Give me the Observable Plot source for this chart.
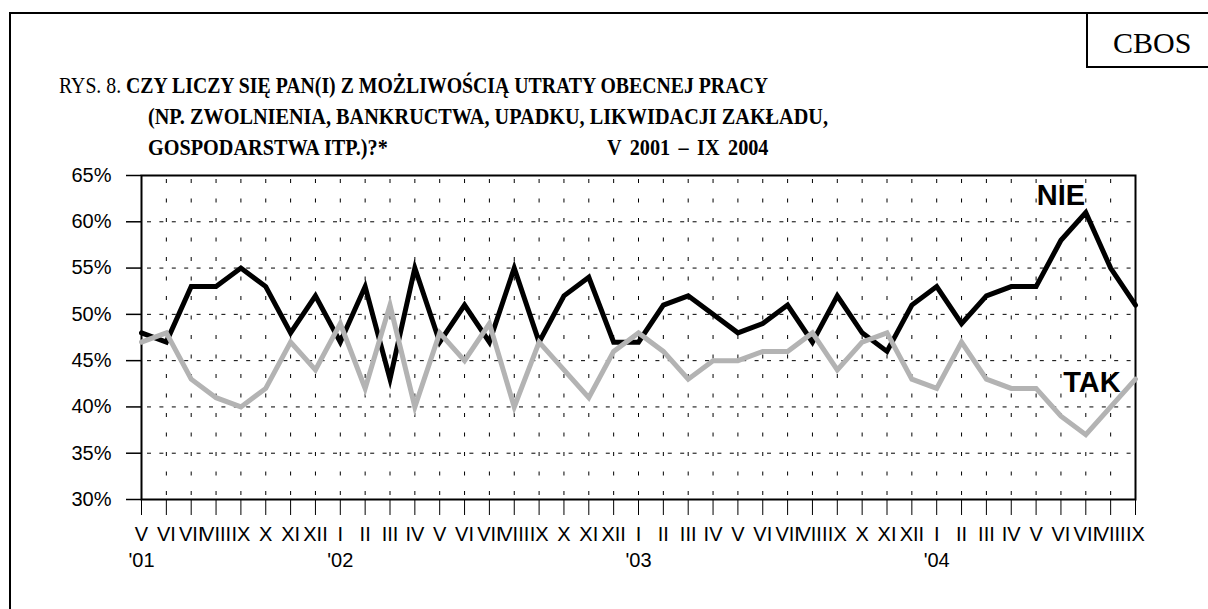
<!DOCTYPE html>
<html>
<head>
<meta charset="utf-8">
<script src="https://cdn.jsdelivr.net/npm/d3@7"></script>
<script src="https://cdn.jsdelivr.net/npm/@observablehq/plot@0.6"></script>
<style>
  html, body { margin: 0; padding: 0; background: #fff; }
  #page { position: relative; width: 1208px; height: 609px; overflow: hidden; background: #fff; }
  .frameTop { position: absolute; left: 9px; top: 12px; width: 1199px; height: 2px; background: #000; }
  .frameLeft { position: absolute; left: 9px; top: 12px; width: 2px; height: 597px; background: #000; }
  .cbosBox { position: absolute; left: 1086px; top: 12px; width: 122px; height: 56px; border-left: 2px solid #000; border-bottom: 2px solid #000; box-sizing: border-box; }
  .cbos { position: absolute; left: 1113px; top: 28px; font: 30px/1 "Liberation Serif", "Times New Roman", serif; white-space: nowrap; }
  .tline { position: absolute; font: bold 24px/1 "Liberation Serif", "Times New Roman", serif; white-space: nowrap; transform-origin: 0 0; }
  .tline .reg { font-weight: normal; }
  #chart { position: absolute; left: 0; top: 150px; }
</style>
</head>
<body>
<div id="page">
  <div class="frameTop"></div>
  <div class="frameLeft"></div>
  <div class="cbosBox"></div>
  <div class="cbos">CBOS</div>
  <div class="tline" id="t1" style="left:59px; top:73px;"><span class="reg">RYS. 8. </span>CZY LICZY SIĘ PAN(I) Z MOŻLIWOŚCIĄ UTRATY OBECNEJ PRACY</div>
  <div class="tline" id="t2" style="left:148px; top:104px;">(NP. ZWOLNIENIA, BANKRUCTWA, UPADKU, LIKWIDACJI ZAKŁADU,</div>
  <div class="tline" id="t3a" style="left:148px; top:135px;">GOSPODARSTWA ITP.)?*</div>
  <div class="tline" id="t3b" style="left:565px; top:135px; word-spacing:4px;">V 2001 – IX 2004</div>
  <div id="chart"></div>
</div>
<script>
// ---- data ----
const months = ["V","VI","VII","VIII","IX","X","XI","XII",
  "I","II","III","IV","V","VI","VII","VIII","IX","X","XI","XII",
  "I","II","III","IV","V","VI","VII","VIII","IX","X","XI","XII",
  "I","II","III","IV","V","VI","VII","VIII","IX"];
const yearTicks = [0, 8, 20, 32];
const yearLabels = ["'01", "'02", "'03", "'04"];
const nie = [48,47,53,53,55,53,48,52,47,53,43,55,47,51,47,55,47,52,54,47,47,51,52,50,48,49,51,47,52,48,46,51,53,49,52,53,53,58,61,55,51];
const tak = [47,48,43,41,40,42,47,44,49,42,51,40,48,45,49,40,47,44,41,46,48,46,43,45,45,46,46,48,44,47,48,43,42,47,43,42,42,39,37,40,43];
const yTicks = [30,35,40,45,50,55,60,65];
const gridY = [35,40,45,50,55,60];

const rows = months.map((m, i) => ({i, month: m, nie: nie[i], tak: tak[i]}));
const idx = rows.map(d => d.i);

// fit title lines to the reference widths
function fit(id, target) {
  const el = document.getElementById(id);
  const s = target / el.getBoundingClientRect().width;
  el.style.transform = `scaleX(${s})`;
  return s;
}
fit("t1", 709);
const s2 = fit("t2", 680);
document.getElementById("t3a").style.transform = `scaleX(${s2})`;
const t3b = document.getElementById("t3b");
const w3b = t3b.getBoundingClientRect().width * s2;
t3b.style.left = `${768 - w3b}px`;
t3b.style.transform = `scaleX(${s2})`;

const sans = "'Liberation Sans', Arial, sans-serif";
const chart = Plot.plot({
  width: 1208,
  height: 459,
  marginLeft: 141,
  marginRight: 73,
  marginTop: 25,
  marginBottom: 110,
  style: {fontFamily: sans, fontSize: "20px", color: "#000", background: "transparent"},
  x: {type: "linear", domain: [0, months.length - 1], label: null},
  y: {domain: [30, 65], label: null},
  marks: [
    Plot.ruleX(idx.slice(1, -1), {stroke: "#000", strokeWidth: 1, strokeDasharray: "4,15.5", strokeDashoffset: -4}),
    Plot.ruleY(gridY, {stroke: "#000", strokeWidth: 1, strokeDasharray: "4,8.4", strokeDashoffset: -6}),
    Plot.axisY({ticks: yTicks, tickFormat: d => d + "%", tickSize: 15, tickPadding: 15, fontSize: 20, strokeWidth: 1.5, label: null}),
    Plot.axisX({ticks: idx, tickFormat: i => months[i], tickSize: 16, tickPadding: 11, fontSize: 20, strokeWidth: 1, label: null}),
    Plot.axisX({ticks: yearTicks, tickFormat: i => yearLabels[yearTicks.indexOf(i)], tickSize: 0, tickPadding: 53, fontSize: 20, label: null}),
    Plot.frame({stroke: "#000", strokeWidth: 2}),
    Plot.lineY(rows, {x: "i", y: "nie", stroke: "#000", strokeWidth: 5, strokeLinejoin: "miter", strokeMiterlimit: 10}),
    Plot.lineY(rows, {x: "i", y: "tak", stroke: "#b3b3b3", strokeWidth: 5, strokeLinejoin: "miter", strokeMiterlimit: 10}),
    Plot.text(["NIE"], {x: 37, y: 61.8, text: d => d, fontSize: 29, fontWeight: "bold", lineAnchor: "bottom", fill: "#000"}),
    Plot.text(["TAK"], {x: 38.25, y: 41.6, text: d => d, fontSize: 29, fontWeight: "bold", lineAnchor: "bottom", fill: "#000"})
  ]
});
document.getElementById("chart").appendChild(chart);
</script>
</body>
</html>
